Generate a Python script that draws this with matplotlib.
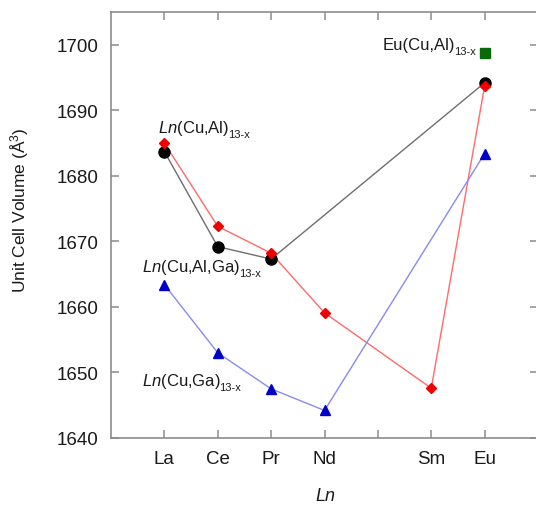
import matplotlib
matplotlib.use("Agg")
import matplotlib.pyplot as plt

plt.rcParams['font.family'] = ['Liberation Sans', 'DejaVu Sans']
plt.rcParams['mathtext.fontset'] = 'custom'
plt.rcParams['mathtext.rm'] = 'Liberation Sans'
plt.rcParams['mathtext.it'] = 'Liberation Sans:italic'
plt.rcParams['mathtext.bf'] = 'Liberation Sans:bold'

# Data
tick_pos = [1, 2, 3, 4, 5, 6, 7]
tick_labels = ["La", "Ce", "Pr", "Nd", "", "Sm", "Eu"]

x_alga = [1, 2, 3, 7]
v_alga = [1683.7, 1669.2, 1667.3, 1694.2]

x_al = [1, 2, 3, 4, 6, 7]
v_al = [1685.0, 1672.3, 1668.2, 1659.1, 1647.6, 1693.7]

x_ga = [1, 2, 3, 4, 7]
v_ga = [1663.4, 1653.0, 1647.5, 1644.2, 1683.4]

x_eu = [7]
v_eu = [1698.8]

W, H = 536, 510
fig = plt.figure(figsize=(W/100, H/100), dpi=100)
ax = fig.add_axes([111/W, 1-439/H, (538-111)/W, (439-13)/H])

ax.plot(x_alga, v_alga, '-', color='#6e6e6e', lw=1.0, zorder=2)
ax.plot(x_alga, v_alga, 'o', color='black', ms=8, zorder=4, ls='none')
ax.plot(x_al, v_al, '-', color='#ff6a6a', lw=1.0, zorder=2)
ax.plot(x_al, v_al, 'D', color='#f00000', ms=5.5, zorder=5, ls='none')
ax.plot(x_ga, v_ga, '-', color='#8a8aee', lw=1.0, zorder=2)
ax.plot(x_ga, v_ga, '^', color='#0000c8', ms=6.5, zorder=5, ls='none')
ax.plot(x_eu, v_eu, 's', color='#0a6a0a', ms=7, zorder=5, ls='none')

ax.set_xlim(0, 8)
ax.set_ylim(1640, 1705)
ax.set_xticks(tick_pos)
ax.set_xticklabels(tick_labels)
ax.set_yticks([1640, 1650, 1660, 1670, 1680, 1690, 1700])

for s in ax.spines.values():
    s.set_color('#8c8c8c')
    s.set_linewidth(1.2)
ax.tick_params(direction='in', length=6, width=1.1, color='#8c8c8c',
               top=True, right=True, labelsize=13.5, pad=9, labelcolor='#1a1a1a')

fs = 12
labels = [
    (0.88, 1686.7, r"$\it{Ln}$(Cu,Al)"),
    (5.09, 1699.4, r"Eu(Cu,Al)"),
    (0.58, 1665.5, r"$\it{Ln}$(Cu,Al,Ga)"),
    (0.58, 1648.1, r"$\it{Ln}$(Cu,Ga)"),
]
fig.canvas.draw()
renderer = fig.canvas.get_renderer()
for (lx, ly, s) in labels:
    t = ax.text(lx, ly, s, fontsize=fs, ha='left', va='baseline', color='#1a1a1a')
    bb = t.get_window_extent(renderer=renderer)
    _, by = ax.transData.transform((lx, ly))
    fig.text((bb.x1 - 1.0) / W, (by - 5.5) / H, "13-x", fontsize=8,
             ha='left', va='baseline', color='#1a1a1a')

fig.text(20/W, 1-210/H, r"Unit Cell Volume (Å$^{\mathregular{3}}$)", rotation=90,
         ha='center', va='center', fontsize=12.5, color='#1a1a1a')
fig.text(325/W, 1-497/H, "Ln", style='italic', ha='center', va='center',
         fontsize=13, color='#1a1a1a')

fig.savefig("out.png", dpi=100)
